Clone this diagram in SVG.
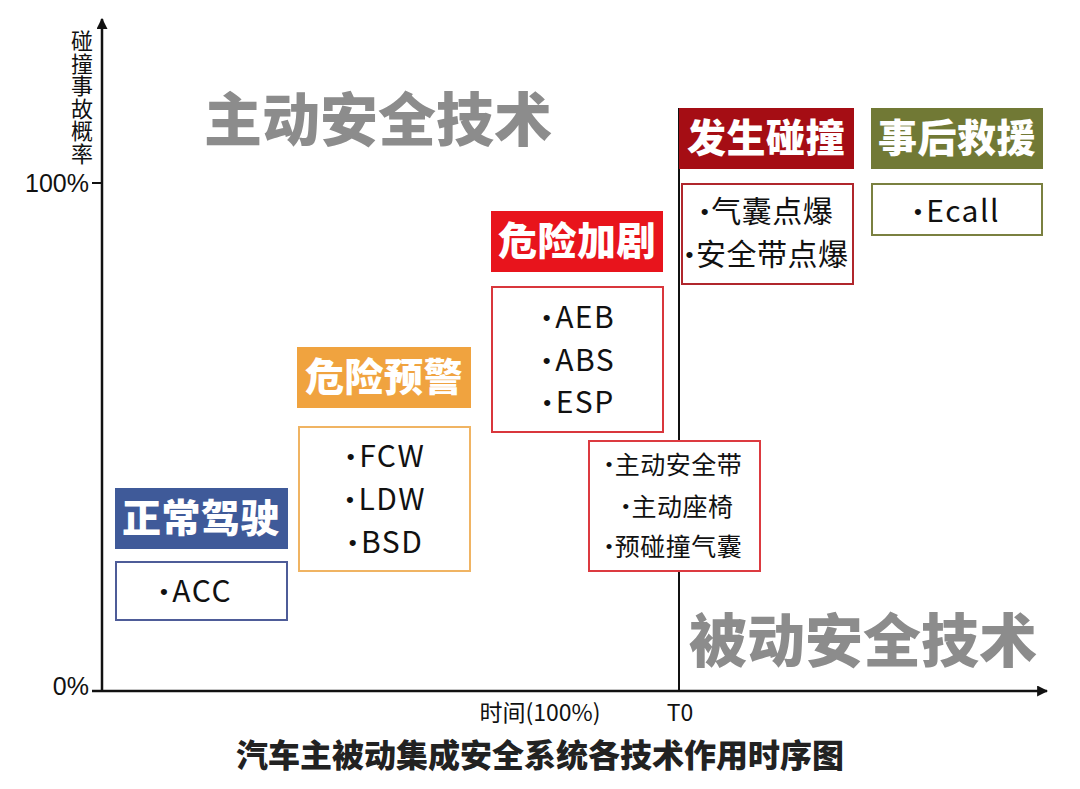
<svg xmlns="http://www.w3.org/2000/svg" width="1080" height="789" viewBox="0 0 1080 789">
<defs>
<marker id="arr" viewBox="0 0 10 10" refX="9" refY="5" markerWidth="11" markerHeight="11" markerUnits="userSpaceOnUse" orient="auto">
<path d="M0,0 L10,5 L0,10 z" fill="#111"/>
</marker>
<style>
text{font-family:"Noto Sans CJK SC","Noto Sans",sans-serif;}
.hd{font-weight:900;font-size:39px;fill:#fff;text-anchor:middle;letter-spacing:0.5px;}
.it{font-size:30px;fill:#111;text-anchor:middle;letter-spacing:1.5px;}
.it2{font-size:25px;fill:#111;text-anchor:middle;letter-spacing:0.5px;}
.b{font-family:"Liberation Sans",sans-serif;font-size:0.75em;}
.big{font-weight:900;font-size:58px;fill:#8c8c8c;}
.ax{font-family:"Liberation Sans",sans-serif;font-size:25px;fill:#111;}
.box{fill:#fff;stroke-width:2;}
</style>
</defs>
<rect width="1080" height="789" fill="#fff"/>
<text class="big" x="204" y="141">主动安全技术</text>
<text class="big" x="689" y="662">被动安全技术</text>
<g id="connectors" stroke="#111" fill="none">
<line x1="102" y1="692" x2="102" y2="19" stroke-width="2.5" marker-end="url(#arr)"/>
<line x1="92" y1="691" x2="1047" y2="691" stroke-width="2.5" marker-end="url(#arr)"/>
<line x1="92" y1="183" x2="102" y2="183" stroke-width="2"/>
<line x1="679" y1="108" x2="679" y2="691" stroke-width="2"/>
</g>
<g id="axis-labels">
<text x="82" y="30" writing-mode="tb" style="font-size:22px;fill:#111;letter-spacing:0.5px">碰撞事故概率</text>
<text class="ax" x="89" y="192" text-anchor="end">100%</text>
<text class="ax" x="89" y="695" text-anchor="end">0%</text>
<text x="540" y="721" text-anchor="middle" style="font-size:23px;fill:#111">时间(100%)</text>
<text x="680" y="721" text-anchor="middle" style="font-size:23px;fill:#111">T0</text>
</g>
<g id="normal">
<rect x="115" y="488" width="173" height="61" fill="#3f5a99"/>
<text class="hd" x="201" y="532">正常驾驶</text>
<rect class="box" x="116" y="562" width="171" height="58" stroke="#4e5c98"/>
<text class="it" x="196" y="602"><tspan class="b" dy="-3">•</tspan><tspan dx="3" dy="3">ACC</tspan></text>
</g>
<g id="warning">
<rect x="297" y="347" width="174" height="61" fill="#f0a33f"/>
<text class="hd" x="384" y="391">危险预警</text>
<rect class="box" x="299" y="427" width="171" height="144" stroke="#f0b463"/>
<text class="it" x="386" y="467"><tspan class="b" dy="-3">•</tspan><tspan dx="3" dy="3">FCW</tspan></text>
<text class="it" x="386" y="510"><tspan class="b" dy="-3">•</tspan><tspan dx="3" dy="3">LDW</tspan></text>
<text class="it" x="386" y="553"><tspan class="b" dy="-3">•</tspan><tspan dx="3" dy="3">BSD</tspan></text>
</g>
<g id="danger">
<rect x="491" y="211" width="172" height="61" fill="#e8141c"/>
<text class="hd" x="577" y="255">危险加剧</text>
<rect class="box" x="492" y="287" width="171" height="145" stroke="#d9363c"/>
<text class="it" x="579" y="328"><tspan class="b" dy="-3">•</tspan><tspan dx="3" dy="3">AEB</tspan></text>
<text class="it" x="579" y="371"><tspan class="b" dy="-3">•</tspan><tspan dx="3" dy="3">ABS</tspan></text>
<text class="it" x="579" y="413"><tspan class="b" dy="-3">•</tspan><tspan dx="3" dy="3">ESP</tspan></text>
</g>
<g id="pre-crash">
<rect class="box" x="589" y="441" width="171" height="130" stroke="#dc3a40" fill="none"/>
<text class="it2" x="674" y="474"><tspan class="b" dy="-3">•</tspan><tspan dx="2" dy="3">主动安全带</tspan></text>
<text class="it2" x="678" y="516"><tspan class="b" dy="-3">•</tspan><tspan dx="2" dy="3">主动座椅</tspan></text>
<text class="it2" x="674" y="556"><tspan class="b" dy="-3">•</tspan><tspan dx="2" dy="3">预碰撞气囊</tspan></text>
</g>
<g id="crash">
<rect x="679" y="108" width="175" height="61" fill="#a50d14"/>
<text class="hd" x="766" y="152">发生碰撞</text>
<rect class="box" x="682" y="184" width="171" height="100" stroke="#b0262c"/>
<text class="it" x="767" y="222" style="letter-spacing:0.5px"><tspan class="b" dy="-3">•</tspan><tspan dx="2" dy="3">气囊点爆</tspan></text>
<text class="it" x="767" y="265" style="letter-spacing:0.5px"><tspan class="b" dy="-3">•</tspan><tspan dx="2" dy="3">安全带点爆</tspan></text>
</g>
<g id="rescue">
<rect x="871" y="108" width="172" height="61" fill="#717935"/>
<text class="hd" x="957" y="152">事后救援</text>
<rect class="box" x="872" y="184" width="170" height="51" stroke="#7a8040"/>
<text class="it" x="957" y="222"><tspan class="b" dy="-3">•</tspan><tspan dx="3" dy="3">Ecall</tspan></text>
</g>
<text x="540" y="767" text-anchor="middle" style="font-weight:900;font-size:32px;fill:#222">汽车主被动集成安全系统各技术作用时序图</text>
</svg>
